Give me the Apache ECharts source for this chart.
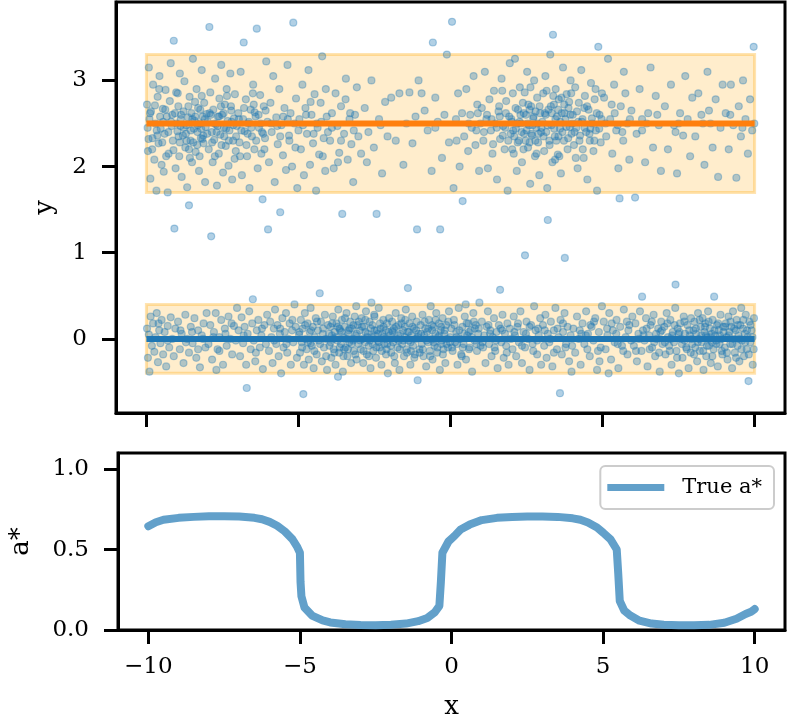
<!DOCTYPE html>
<html>
<head>
<meta charset="utf-8">
<script src="https://cdn.jsdelivr.net/npm/echarts@6/dist/echarts.min.js"></script>
<style>
  html, body { margin: 0; padding: 0; background: #fff; }
  #chart { width: 788px; height: 721px; }
</style>
</head>
<body>
<div id="chart"></div>
<script>
// samples around the upper mode (roughly)
var topPoints = [
  [-9.98,2.72],[-9.95,2.18],[-9.92,3.15],[-9.9,2.55],[-9.87,1.86],[-9.85,2.64],[-9.8,2.33],[-9.78,2.95],[-9.74,2.08],[-9.7,2.5],[-9.67,1.72],[-9.63,2.81],[-9.6,2.27],[-9.57,3.05],[-9.53,2.44],[-9.5,2.02],[-9.46,2.67],[-9.43,1.94],[-9.4,2.38],[-9.37,2.89],[-9.33,2.58],[-9.3,1.7],[-9.27,2.15],[-9.23,2.76],[-9.2,3.2],[-9.17,2.47],[-9.13,2.3],[-9.1,3.46],[-9.08,1.28],[-9.06,2.62],[-9.04,1.98],[-9.02,2.86],[-9.66,2.42],[-9.45,2.52],[-9.15,2.6],
  [-8.98,2.41],[-8.95,2.7],[-8.92,2.12],[-8.9,3.08],[-8.87,2.55],[-8.84,1.88],[-8.8,2.36],[-8.78,2.64],[-8.75,2.99],[-8.72,2.22],[-8.69,2.48],[-8.66,1.76],[-8.63,2.57],[-8.6,1.55],[-8.58,2.81],[-8.55,2.3],[-8.52,2.62],[-8.5,2.05],[-8.47,3.25],[-8.44,2.44],[-8.41,2.53],[-8.38,2.17],[-8.35,2.9],[-8.32,2.4],[-8.3,2.68],[-8.27,1.95],[-8.24,2.5],[-8.21,2.33],[-8.18,3.12],[-8.15,2.58],[-8.12,2.27],[-8.1,2.74],[-8.07,1.82],[-8.05,2.46],[-8.02,2.61],[-8.88,2.47],[-8.7,2.38],[-8.49,2.55],[-8.33,2.25],[-8.2,2.44],[-8.6,2.2],[-8.4,2.75],[-8.25,2.12],[-8.9,2.28],[-8.13,2.36],
  [-7.98,2.52],[-7.95,2.2],[-7.93,3.62],[-7.9,2.86],[-7.87,1.19],[-7.85,2.4],[-7.82,2.05],[-7.8,2.66],[-7.77,2.31],[-7.74,3.02],[-7.71,2.49],[-7.68,1.78],[-7.65,2.58],[-7.62,2.15],[-7.6,2.79],[-7.57,2.37],[-7.54,3.18],[-7.51,2.6],[-7.48,1.93],[-7.45,2.45],[-7.42,2.72],[-7.39,2.24],[-7.36,2.9],[-7.33,2.53],[-7.3,2.01],[-7.27,2.42],[-7.24,3.08],[-7.21,2.65],[-7.18,1.85],[-7.15,2.3],[-7.12,2.56],[-7.09,2.84],[-7.06,2.18],[-7.03,2.47],[-7.88,2.6],[-7.66,2.47],[-7.44,2.35],[-7.2,2.52],[-7.55,2.7],[-7.1,2.09],
  [-6.98,2.62],[-6.94,2.28],[-6.9,3.1],[-6.86,1.9],[-6.82,2.55],[-6.8,3.44],[-6.77,2.41],[-6.73,2.78],[-6.69,2.12],[-6.65,2.5],[-6.61,1.75],[-6.57,2.66],[-6.53,2.35],[-6.49,2.95],[-6.45,2.2],[-6.41,2.58],[-6.37,3.6],[-6.34,1.98],[-6.3,2.45],[-6.26,2.83],[-6.22,2.15],[-6.18,1.62],[-6.14,2.7],[-6.1,2.33],[-6.06,3.22],[-6.02,2.52],[-6.0,1.27],[-6.67,2.38],[-6.44,2.63],[-6.2,2.4],
  [-5.97,2.05],[-5.92,2.74],[-5.88,2.4],[-5.83,3.05],[-5.78,1.82],[-5.73,2.57],[-5.68,2.26],[-5.63,2.9],[-5.6,1.47],[-5.56,2.48],[-5.51,2.13],[-5.46,2.68],[-5.41,1.96],[-5.36,3.18],[-5.31,2.36],[-5.26,2.62],[-5.21,2.0],[-5.17,3.67],[-5.13,2.5],[-5.08,2.79],[-5.04,1.75],[-5.7,2.47],[-5.5,2.58],[-5.3,2.3],[-5.1,2.22],
  [-4.97,2.55],[-4.92,2.2],[-4.87,2.95],[-4.82,1.9],[-4.77,2.68],[-4.72,2.38],[-4.67,3.12],[-4.62,2.02],[-4.57,2.6],[-4.52,2.27],[-4.47,2.84],[-4.42,1.72],[-4.37,2.45],[-4.32,2.14],[-4.27,2.74],[-4.22,3.28],[-4.17,2.33],[-4.12,1.95],[-4.07,2.58],[-4.03,2.4],[-4.85,2.48],[-4.6,2.75],[-4.4,2.5],[-4.2,2.12],[-4.1,2.9],
  [-3.96,2.3],[-3.9,2.62],[-3.84,1.98],[-3.78,2.85],[-3.72,2.47],[-3.66,2.16],[-3.6,2.7],[-3.56,1.45],[-3.5,2.38],[-3.44,3.02],[-3.38,2.08],[-3.32,2.55],[-3.26,2.26],[-3.2,1.82],[-3.14,2.6],[-3.08,2.92],[-3.03,2.35],[-3.7,2.05],[-3.45,2.78],[-3.18,2.42],
  [-2.94,2.15],[-2.82,2.68],[-2.7,2.4],[-2.6,3.0],[-2.52,2.22],[-2.43,1.45],[-2.35,2.55],[-2.25,1.92],[-2.15,2.75],[-2.07,2.35],[-2.75,2.05],[-2.3,2.48],
  [-1.95,2.8],[-1.8,2.3],[-1.68,2.85],[-1.55,2.02],[-1.45,2.5],[-1.35,2.86],[-1.25,2.27],[-1.1,1.27],[-1.15,2.58],[-1.05,3.0],
  [-0.95,2.85],[-0.85,2.65],[-0.75,2.42],[-0.62,1.95],[-0.58,3.44],[-0.5,2.8],[-0.42,2.52],[-0.34,1.27],[-0.28,2.1],[-0.2,2.6],[-0.12,3.3],[-0.05,2.28],
  [0.05,3.68],[0.1,1.75],[0.18,2.55],[0.25,2.85],[0.3,2.0],[0.38,2.62],[0.45,2.35],[0.52,2.9],[0.58,2.18],[0.65,2.6],[0.7,2.45],[0.76,3.05],[0.82,2.25],[0.88,2.72],[0.94,1.95],[0.98,2.5],[0.4,1.6],[0.85,2.42],
  [1.03,2.68],[1.08,2.3],[1.13,3.1],[1.18,2.55],[1.23,1.98],[1.28,2.78],[1.33,2.42],[1.38,2.15],[1.43,2.88],[1.48,2.5],[1.53,1.85],[1.58,2.64],[1.63,2.32],[1.68,3.02],[1.73,2.47],[1.78,2.2],[1.83,2.76],[1.88,1.72],[1.93,2.58],[1.98,2.38],[1.2,2.6],[1.4,2.26],[1.6,2.7],[1.8,2.45],[1.95,3.2],
  [2.02,2.52],[2.05,2.85],[2.08,2.15],[2.12,3.25],[2.15,2.44],[2.18,1.95],[2.22,2.66],[2.25,2.3],[2.28,2.92],[2.32,2.5],[2.35,2.05],[2.38,2.74],[2.42,2.38],[2.45,0.97],[2.48,2.6],[2.52,3.1],[2.55,2.22],[2.58,2.48],[2.62,1.8],[2.65,2.7],[2.68,2.36],[2.72,2.56],[2.75,3.0],[2.78,2.12],[2.82,2.45],[2.85,2.8],[2.88,2.28],[2.92,1.9],[2.95,2.62],[2.98,2.4],[2.1,2.35],[2.3,2.6],[2.4,2.2],[2.5,2.42],[2.6,2.28],[2.7,2.48],[2.8,2.64],[2.9,2.38],[2.2,2.5],[2.56,2.72],
  [3.02,2.52],[3.05,2.85],[3.08,2.18],[3.12,3.05],[3.15,2.4],[3.18,1.75],[3.2,1.38],[3.22,2.66],[3.25,2.3],[3.28,3.3],[3.32,2.48],[3.35,2.05],[3.37,3.53],[3.4,2.72],[3.43,2.35],[3.46,2.9],[3.5,2.58],[3.53,2.14],[3.56,2.78],[3.6,2.44],[3.63,1.92],[3.66,2.62],[3.7,3.15],[3.73,2.3],[3.76,0.94],[3.78,2.55],[3.82,2.84],[3.85,2.2],[3.88,2.68],[3.92,2.46],[3.95,3.0],[3.98,2.38],[3.1,2.62],[3.3,2.7],[3.45,2.55],[3.55,2.35],[3.65,2.8],[3.75,2.62],[3.9,2.75],[3.38,2.82],
  [4.02,2.6],[4.06,2.25],[4.1,2.92],[4.14,2.45],[4.18,1.98],[4.22,2.74],[4.26,2.36],[4.3,3.12],[4.34,2.55],[4.38,2.1],[4.42,2.82],[4.46,2.4],[4.5,1.85],[4.54,2.66],[4.58,2.3],[4.62,2.97],[4.66,2.5],[4.7,2.18],[4.74,2.78],[4.78,2.42],[4.82,1.72],[4.86,3.39],[4.9,2.6],[4.94,2.28],[4.98,2.85],[4.2,2.52],[4.4,2.68],[4.6,2.44],
  [5.05,2.8],[5.12,2.35],[5.18,3.25],[5.25,2.55],[5.32,2.15],[5.38,2.95],[5.45,2.42],[5.52,1.98],[5.56,1.63],[5.6,2.7],[5.68,2.3],[5.75,2.85],[5.82,2.5],[5.88,2.08],[5.95,2.65],[5.3,2.72],[5.5,2.48],[5.7,3.1],
  [6.07,1.64],[6.12,2.38],[6.22,2.9],[6.3,2.55],[6.4,2.05],[6.5,2.62],[6.58,3.15],[6.66,2.22],[6.75,2.82],[6.85,2.48],[6.92,1.95],[6.45,2.5],
  [7.05,2.7],[7.15,2.2],[7.25,2.95],[7.35,2.48],[7.45,1.92],[7.55,2.62],[7.65,2.36],[7.72,3.05],[7.8,2.55],[7.88,2.12],[7.95,2.8],[7.5,2.5],
  [8.05,2.35],[8.15,2.85],[8.25,2.6],[8.35,2.02],[8.45,3.1],[8.55,2.5],[8.62,2.22],[8.72,2.78],[8.8,1.88],[8.88,2.45],[8.95,2.95],[8.5,2.65],
  [9.05,2.62],[9.15,2.2],[9.22,2.95],[9.3,2.48],[9.4,1.87],[9.48,2.7],[9.55,2.35],[9.62,3.0],[9.7,2.55],[9.78,2.15],[9.85,2.78],[9.92,2.42],[9.97,3.39],[9.99,2.5],
  // denser cores
  [-9.96,2.45],[-9.88,2.62],[-9.81,2.2],[-9.72,2.71],[-9.64,2.36],[-9.55,2.58],[-9.48,2.28],[-9.38,2.66],[-9.28,2.4],[-9.19,2.52],[-9.11,2.19],[-9.01,2.5],[-8.94,2.35],[-8.86,2.6],[-8.77,2.45],[-8.68,2.3],[-8.62,2.7],[-8.54,2.42],[-8.46,2.28],[-8.39,2.58],[-8.31,2.48],[-8.23,2.66],[-8.16,2.32],[-8.08,2.55],[-8.0,2.38],[-7.92,2.62],[-7.84,2.28],[-7.76,2.5],[-7.69,2.4],[-7.61,2.58],[-7.53,2.25],[-7.46,2.62],[-7.38,2.44],[-7.29,2.3],[-7.22,2.7],[-7.14,2.48],[-7.05,2.35],[-6.96,2.55],[-6.88,2.42],[-6.79,2.68],[-6.71,2.25],[-6.63,2.52],[-6.55,2.45],[-6.47,2.72],[-6.39,2.3],[-6.31,2.6],[-6.24,2.5],[-6.16,2.38],[-6.08,2.65],[-9.93,2.32],[-9.58,2.9],[-9.35,2.12],[-8.97,2.85],[-8.57,2.1],[-8.18,2.82],[-7.75,2.12],[-7.35,2.82],[-6.92,2.12],[-6.5,2.85],[-6.12,2.2],
  [1.52,2.45],[1.62,2.58],[1.72,2.36],[1.82,2.62],[1.9,2.3],[2.0,2.55],[2.06,2.42],[2.14,2.68],[2.21,2.28],[2.27,2.52],[2.34,2.4],[2.41,2.62],[2.47,2.3],[2.53,2.5],[2.6,2.66],[2.66,2.38],[2.73,2.58],[2.79,2.3],[2.86,2.5],[2.93,2.7],[2.99,2.45],[3.06,2.35],[3.13,2.6],[3.19,2.48],[3.26,2.25],[3.33,2.62],[3.41,2.44],[3.48,2.3],[3.54,2.66],[3.61,2.52],[3.68,2.4],[3.74,2.72],[3.81,2.46],[3.87,2.33],[3.94,2.6],[4.0,2.5],[4.08,2.4],[4.16,2.64],[4.24,2.3],[4.32,2.52],[4.41,2.45],[4.49,2.7],[4.57,2.38],[4.65,2.56],[4.73,2.3],[4.81,2.62],[4.89,2.44],[4.97,2.55],[2.03,2.2],[2.44,2.86],[2.83,2.15],[3.16,2.88],[3.58,2.12],[3.97,2.85],[4.35,2.2],[1.7,2.88],[2.63,2.92],[3.44,2.08],[4.12,2.1],[4.77,2.9],
  [-5.9,2.5],[-5.6,2.35],[-5.35,2.55],[-5.0,2.42],[-4.75,2.6],[-4.5,2.38],[-4.25,2.52],[-3.9,2.45],[-3.6,2.3],[-3.3,2.62],[-0.5,2.45],[0.2,2.3],[0.6,2.5],[0.9,2.62],[1.1,2.4],[1.35,2.55],[5.1,2.5],[5.4,2.62],[5.65,2.4],[5.9,2.55],[6.3,2.42],[6.8,2.6],[7.4,2.4],[8.3,2.5],[9.2,2.6],[9.6,2.45]
];

// samples around the lower mode
var bottomPoints = [
  [-9.98,0.12],[-9.95,-0.22],[-9.92,0.05],[-9.9,-0.38],[-9.86,0.26],[-9.82,-0.08],[-9.78,0.18],[-9.74,-0.15],[-9.7,0.02],[-9.66,0.3],[-9.62,-0.27],[-9.58,0.1],[-9.54,-0.05],[-9.5,0.22],[-9.45,-0.18],[-9.4,0.08],[-9.35,-0.32],[-9.3,0.15],[-9.25,-0.1],[-9.2,0.25],[-9.15,0.0],[-9.1,-0.2],[-9.05,0.12],[-9.6,0.18],[-9.3,-0.02],
  [-8.96,0.2],[-8.9,-0.12],[-8.84,0.06],[-8.78,-0.28],[-8.72,0.28],[-8.66,0.0],[-8.6,-0.16],[-8.54,0.14],[-8.48,-0.05],[-8.42,0.24],[-8.36,-0.22],[-8.3,0.1],[-8.24,-0.33],[-8.18,0.04],[-8.12,0.18],[-8.06,-0.1],[-8.02,0.3],[-8.7,-0.04],[-8.5,0.08],[-8.3,-0.12],[-8.14,0.0],[-8.88,0.1],
  [-7.96,-0.06],[-7.9,0.16],[-7.84,-0.24],[-7.78,0.08],[-7.72,0.3],[-7.66,-0.12],[-7.6,0.02],[-7.54,0.22],[-7.48,-0.3],[-7.42,0.12],[-7.36,-0.08],[-7.3,0.26],[-7.24,0.0],[-7.18,-0.18],[-7.12,0.15],[-7.06,-0.02],[-7.02,0.36],[-7.8,0.02],[-7.6,-0.14],[-7.4,0.06],[-7.2,0.18],[-7.7,-0.36],
  [-6.97,0.1],[-6.92,-0.2],[-6.87,0.25],[-6.82,-0.05],[-6.77,0.14],[-6.72,-0.3],[-6.7,-0.57],[-6.67,0.06],[-6.62,0.32],[-6.57,-0.12],[-6.52,0.18],[-6.5,0.46],[-6.47,-0.02],[-6.42,-0.26],[-6.37,0.1],[-6.32,0.22],[-6.27,-0.1],[-6.22,0.04],[-6.17,-0.35],[-6.12,0.16],[-6.07,-0.06],[-6.03,0.28],[-6.8,0.04],[-6.4,-0.16],[-6.2,0.12],
  [-5.97,-0.14],[-5.93,0.2],[-5.89,0.02],[-5.85,-0.28],[-5.81,0.12],[-5.77,0.34],[-5.73,-0.06],[-5.69,0.16],[-5.65,-0.2],[-5.61,0.06],[-5.57,-0.4],[-5.53,0.24],[-5.49,-0.1],[-5.45,0.08],[-5.41,0.3],[-5.37,-0.16],[-5.33,0.0],[-5.29,0.18],[-5.25,-0.3],[-5.21,0.1],[-5.17,-0.04],[-5.13,0.4],[-5.09,0.14],[-5.05,-0.22],[-5.8,-0.02],[-5.6,0.12],[-5.4,-0.06],[-5.2,0.22],
  [-4.98,0.05],[-4.95,-0.16],[-4.92,0.22],[-4.89,-0.04],[-4.86,0.12],[-4.84,-0.64],[-4.82,-0.3],[-4.79,0.3],[-4.76,0.0],[-4.73,-0.12],[-4.7,0.18],[-4.66,-0.24],[-4.63,0.08],[-4.6,0.36],[-4.56,-0.08],[-4.53,0.14],[-4.5,-0.34],[-4.46,0.02],[-4.43,0.24],[-4.4,-0.18],[-4.36,0.1],[-4.33,-0.02],[-4.3,0.53],[-4.26,0.2],[-4.23,-0.26],[-4.2,0.06],[-4.16,-0.1],[-4.13,0.28],[-4.1,0.0],[-4.06,-0.36],[-4.03,0.16],[-4.6,-0.05],
  [-3.98,-0.08],[-3.95,0.14],[-3.92,-0.22],[-3.9,0.04],[-3.87,0.26],[-3.84,-0.12],[-3.81,0.08],[-3.78,-0.3],[-3.75,0.18],[-3.72,-0.02],[-3.69,0.34],[-3.66,-0.16],[-3.63,0.1],[-3.6,-0.06],[-3.57,0.22],[-3.54,-0.38],[-3.51,0.02],[-3.48,0.14],[-3.45,-0.1],[-3.42,0.3],[-3.39,-0.2],[-3.36,0.06],[-3.33,-0.04],[-3.3,0.2],[-3.27,-0.28],[-3.24,0.12],[-3.21,0.0],[-3.18,-0.14],[-3.15,0.26],[-3.12,0.04],[-3.09,-0.24],[-3.06,0.16],[-3.03,-0.06],[-3.85,0.0],[-3.65,0.12],[-3.5,-0.12],[-3.35,0.1],[-3.2,-0.02],[-3.1,0.38],[-3.7,-0.44],
  [-2.98,0.1],[-2.95,-0.12],[-2.92,0.24],[-2.9,0.0],[-2.87,-0.28],[-2.84,0.14],[-2.81,-0.04],[-2.78,0.32],[-2.75,-0.18],[-2.72,0.06],[-2.69,-0.08],[-2.66,0.2],[-2.63,-0.34],[-2.6,0.02],[-2.57,0.16],[-2.54,-0.14],[-2.51,0.28],[-2.48,0.04],[-2.45,-0.22],[-2.42,0.1],[-2.39,-0.02],[-2.36,0.36],[-2.33,-0.1],[-2.3,0.12],[-2.27,-0.3],[-2.24,0.06],[-2.21,0.22],[-2.18,-0.06],[-2.15,0.0],[-2.12,-0.18],[-2.09,0.18],[-2.06,-0.4],[-2.03,0.08],[-2.8,0.08],[-2.65,-0.02],[-2.5,0.1],[-2.35,-0.04],[-2.2,0.14],[-2.1,-0.12],[-2.6,0.42],
  [-1.98,0.04],[-1.95,-0.16],[-1.92,0.2],[-1.89,-0.04],[-1.86,0.12],[-1.83,-0.28],[-1.8,0.3],[-1.77,0.0],[-1.74,-0.1],[-1.71,0.16],[-1.68,-0.36],[-1.65,0.06],[-1.62,0.24],[-1.59,-0.06],[-1.56,0.1],[-1.53,-0.2],[-1.5,0.02],[-1.47,0.34],[-1.44,-0.12],[-1.41,0.08],[-1.4,0.59],[-1.38,-0.02],[-1.35,0.18],[-1.32,-0.3],[-1.29,0.04],[-1.26,0.26],[-1.23,-0.08],[-1.2,0.12],[-1.17,-0.18],[-1.14,0.0],[-1.11,0.2],[-1.08,-0.48],[-1.05,0.06],[-1.02,-0.12],[-1.9,0.08],[-1.7,-0.02],[-1.5,0.14],[-1.3,-0.14],
  [-0.98,0.16],[-0.95,-0.06],[-0.92,0.28],[-0.89,-0.2],[-0.86,0.04],[-0.83,0.12],[-0.8,-0.32],[-0.77,0.08],[-0.74,-0.04],[-0.71,0.22],[-0.68,-0.14],[-0.65,0.38],[-0.62,0.0],[-0.59,-0.24],[-0.56,0.14],[-0.53,-0.08],[-0.5,0.06],[-0.47,0.3],[-0.44,-0.16],[-0.41,0.02],[-0.38,0.18],[-0.35,-0.36],[-0.32,0.1],[-0.29,-0.02],[-0.26,0.24],[-0.23,-0.12],[-0.2,0.06],[-0.17,-0.28],[-0.14,0.16],[-0.11,0.0],[-0.08,-0.1],[-0.05,0.32],[-0.02,-0.04],[-0.6,0.1],[-0.3,-0.06],
  [0.03,0.12],[0.07,-0.14],[0.11,0.22],[0.15,-0.04],[0.19,0.08],[0.23,-0.3],[0.27,0.36],[0.31,0.0],[0.35,-0.18],[0.39,0.14],[0.43,-0.06],[0.47,0.26],[0.51,-0.24],[0.55,0.04],[0.59,0.18],[0.63,-0.1],[0.67,0.1],[0.71,-0.38],[0.75,0.3],[0.79,-0.02],[0.83,0.16],[0.87,-0.14],[0.91,0.06],[0.95,0.42],[0.99,-0.08],[0.2,0.02],[0.4,-0.1],[0.6,0.08],[0.8,0.12],[0.5,0.4],
  [1.03,0.2],[1.07,-0.1],[1.11,0.04],[1.15,-0.28],[1.19,0.14],[1.23,0.32],[1.27,-0.06],[1.31,0.1],[1.35,-0.2],[1.39,0.02],[1.43,0.24],[1.47,-0.14],[1.51,0.08],[1.55,-0.34],[1.59,0.16],[1.63,0.57],[1.67,-0.04],[1.71,0.28],[1.75,-0.22],[1.79,0.06],[1.83,-0.08],[1.87,0.18],[1.91,-0.3],[1.95,0.12],[1.99,0.0],[1.3,0.06],[1.5,-0.02],[1.7,0.1],
  [2.04,-0.12],[2.08,0.26],[2.12,0.04],[2.16,-0.2],[2.2,0.14],[2.25,-0.04],[2.3,0.32],[2.35,-0.28],[2.4,0.08],[2.45,-0.1],[2.5,0.2],[2.55,0.0],[2.6,-0.36],[2.65,0.16],[2.7,-0.06],[2.75,0.38],[2.8,0.1],[2.85,-0.18],[2.9,0.04],[2.95,0.24],[2.98,-0.3],[2.22,0.18],[2.48,0.06],[2.72,-0.14],[2.88,0.12],
  [3.04,0.16],[3.08,-0.08],[3.12,0.28],[3.16,-0.22],[3.2,0.06],[3.25,-0.04],[3.3,0.2],[3.35,-0.32],[3.4,0.1],[3.45,0.36],[3.5,-0.12],[3.55,0.02],[3.6,-0.63],[3.62,0.22],[3.66,-0.18],[3.7,0.08],[3.75,0.3],[3.8,-0.06],[3.85,0.14],[3.9,-0.26],[3.95,0.04],[3.98,-0.38],[3.28,0.0],[3.52,0.12],[3.78,-0.1],
  [4.04,0.12],[4.1,-0.16],[4.16,0.26],[4.22,0.0],[4.28,-0.3],[4.34,0.18],[4.4,-0.06],[4.46,0.32],[4.52,0.06],[4.58,-0.2],[4.64,0.14],[4.7,-0.02],[4.76,0.24],[4.82,-0.36],[4.88,0.08],[4.94,-0.1],[4.98,0.38],[4.25,0.1],[4.5,-0.12],[4.72,0.2],[4.9,-0.26],[4.45,0.04],
  [5.04,0.2],[5.1,-0.12],[5.16,0.04],[5.22,0.3],[5.28,-0.24],[5.34,0.1],[5.4,-0.04],[5.46,0.22],[5.52,-0.34],[5.58,0.14],[5.64,-0.08],[5.7,0.34],[5.76,0.02],[5.82,-0.18],[5.88,0.16],[5.94,-0.02],[5.98,0.26],[5.2,-0.4],[5.45,0.06],[5.68,-0.14],[5.85,0.1],[5.3,0.18],
  [6.03,-0.08],[6.08,0.18],[6.13,-0.26],[6.18,0.06],[6.23,0.32],[6.28,-0.14],[6.3,0.49],[6.33,0.1],[6.38,-0.02],[6.43,0.24],[6.48,-0.32],[6.53,0.04],[6.58,0.16],[6.63,-0.1],[6.68,0.28],[6.73,-0.2],[6.78,0.0],[6.83,0.12],[6.88,-0.38],[6.93,0.2],[6.97,-0.06],[6.2,0.0],[6.45,0.12],[6.7,-0.04],[6.9,0.08],
  [7.03,0.14],[7.07,-0.18],[7.11,0.3],[7.15,0.02],[7.19,-0.08],[7.23,0.22],[7.27,-0.3],[7.31,0.08],[7.35,-0.04],[7.39,0.36],[7.4,0.63],[7.43,-0.14],[7.47,0.12],[7.51,-0.4],[7.55,0.18],[7.59,0.0],[7.63,-0.22],[7.67,0.26],[7.71,0.06],[7.75,-0.1],[7.79,0.16],[7.83,-0.34],[7.87,0.04],[7.91,0.24],[7.95,-0.06],[7.99,0.1],[7.25,0.0],[7.5,0.06],[7.7,-0.02],[7.9,-0.16],
  [8.02,0.2],[8.05,-0.1],[8.08,0.06],[8.11,-0.26],[8.14,0.3],[8.17,0.0],[8.2,-0.14],[8.23,0.14],[8.26,-0.04],[8.29,0.24],[8.32,-0.36],[8.35,0.08],[8.38,0.18],[8.41,-0.2],[8.44,0.02],[8.47,0.32],[8.5,-0.08],[8.53,0.12],[8.56,-0.28],[8.59,0.06],[8.62,0.22],[8.65,-0.12],[8.67,0.49],[8.7,0.04],[8.73,-0.02],[8.76,0.16],[8.79,-0.32],[8.82,0.1],[8.85,-0.06],[8.88,0.28],[8.91,0.0],[8.94,-0.18],[8.97,0.14],[8.4,0.04],[8.6,-0.04],
  [9.02,-0.1],[9.05,0.18],[9.08,0.02],[9.11,-0.24],[9.14,0.26],[9.17,0.08],[9.2,-0.06],[9.23,0.14],[9.26,-0.34],[9.29,0.32],[9.32,0.0],[9.35,-0.16],[9.38,0.1],[9.41,0.22],[9.44,-0.08],[9.47,0.04],[9.5,-0.26],[9.53,0.16],[9.56,0.36],[9.59,-0.02],[9.62,0.12],[9.65,-0.2],[9.68,0.06],[9.71,0.28],[9.74,-0.12],[9.77,0.02],[9.8,-0.49],[9.83,0.2],[9.86,-0.04],[9.9,0.1],[9.94,-0.3],[9.98,0.24],
  // denser cores
  [-4.97,0.08],[-4.88,-0.1],[-4.78,0.16],[-4.69,-0.04],[-4.59,0.1],[-4.48,-0.14],[-4.39,0.2],[-4.29,-0.06],[-4.19,0.12],[-4.09,-0.2],
  [-3.99,0.06],[-3.94,-0.04],[-3.89,0.18],[-3.82,-0.16],[-3.76,0.02],[-3.71,0.14],[-3.64,-0.1],[-3.58,0.08],[-3.52,-0.2],[-3.47,0.24],[-3.41,0.0],[-3.37,-0.12],[-3.31,0.12],[-3.25,-0.06],[-3.19,0.16],[-3.13,-0.18],[-3.08,0.06],[-3.02,0.2],
  [-2.97,-0.02],[-2.91,0.14],[-2.86,-0.14],[-2.8,0.22],[-2.74,0.02],[-2.68,-0.2],[-2.62,0.12],[-2.56,-0.06],[-2.5,0.26],[-2.44,-0.1],[-2.38,0.06],[-2.32,0.18],[-2.26,-0.14],[-2.2,0.02],[-2.14,0.1],[-2.08,-0.06],[-2.02,0.24],
  [-1.96,-0.08],[-1.91,0.1],[-1.85,-0.2],[-1.79,0.14],[-1.73,0.04],[-1.67,-0.12],[-1.61,0.18],[-1.55,-0.02],[-1.49,0.22],[-1.43,-0.16],[-1.37,0.08],[-1.31,-0.04],[-1.25,0.14],[-1.19,-0.22],[-1.13,0.1],[-1.07,0.02],[-1.01,-0.16],
  [-0.97,0.06],[-0.91,-0.12],[-0.85,0.2],[-0.79,-0.02],[-0.73,0.12],[-0.67,-0.2],[-0.61,0.16],[-0.55,-0.04],[-0.49,0.22],[-0.43,-0.1],[-0.37,0.04],[-0.31,0.14],[-0.25,-0.18],[-0.19,0.1],[-0.13,-0.06],[-0.07,0.2],[-0.01,0.02],
  [0.05,-0.1],[0.13,0.16],[0.21,-0.06],[0.29,0.1],[0.37,-0.2],[0.45,0.06],[0.53,0.18],[0.61,-0.12],[0.69,0.02],[0.77,0.2],[0.85,-0.06],[0.93,0.12],
  [1.05,-0.04],[1.25,0.16],[1.45,-0.1],[1.65,0.12],[1.85,-0.16],[2.1,0.08],[2.35,-0.08],[2.6,0.14],[2.85,-0.02],[3.1,0.1],[3.4,-0.16],[3.7,0.18],[4.0,-0.08],[4.3,0.06],[4.6,0.16],[4.85,-0.14],[5.15,0.12],[5.5,-0.06],[5.8,0.2],[6.1,-0.14],[6.35,0.04],
  [6.55,-0.12],[6.62,0.2],[6.76,0.06],[6.86,-0.16],[6.95,0.1],[7.05,-0.04],[7.13,0.18],[7.21,-0.14],[7.29,0.04],[7.37,0.16],[7.45,-0.22],[7.53,0.08],[7.61,-0.06],[7.69,0.2],[7.77,-0.12],[7.85,0.1],[7.93,0.0],
  [8.01,-0.18],[8.07,0.12],[8.13,-0.04],[8.19,0.22],[8.25,0.04],[8.31,-0.14],[8.37,0.14],[8.43,-0.08],[8.49,0.2],[8.55,0.02],[8.61,-0.2],[8.68,0.1],[8.74,-0.06],[8.8,0.18],[8.86,0.04],[8.92,-0.14],[8.98,0.08],
  [9.03,0.14],[9.09,-0.16],[9.15,0.04],[9.21,0.2],[9.27,-0.06],[9.33,0.12],[9.39,-0.22],[9.45,0.16],[9.51,0.0],[9.57,-0.12],[9.63,0.22],[9.69,-0.04],[9.75,0.1],[9.81,-0.18],[9.87,0.16],[9.93,0.02],[9.97,-0.12]
];

// mode means and +/- bands
var modeMeans = [2.5, 0];
var bandUpper = [1.7, 3.3];
var bandLower = [-0.4, 0.4];
var bandX = [-10, 10];

// true a*(x)
var aStarX = [-10,-9.75,-9.5,-9,-8.5,-8,-7.5,-7,-6.5,-6.25,-6,-5.75,-5.5,-5.25,-5.1,-5.0,-4.98,-4.95,-4.85,-4.6,-4.25,-4,-3.5,-3,-2.5,-2,-1.5,-1.1,-0.8,-0.55,-0.4,-0.35,-0.3,-0.1,0.1,0.3,0.6,1,1.5,2,2.5,3,3.5,4,4.25,4.5,4.8,5.0,5.25,5.45,5.5,5.55,5.7,5.9,6.2,6.6,7,7.5,8,8.5,9,9.4,9.7,9.9,10];
var aStarY = [0.645,0.67,0.685,0.697,0.703,0.707,0.707,0.705,0.697,0.688,0.672,0.648,0.613,0.565,0.52,0.48,0.3,0.21,0.14,0.09,0.06,0.047,0.036,0.031,0.03,0.033,0.04,0.055,0.075,0.11,0.15,0.3,0.48,0.55,0.585,0.625,0.655,0.683,0.697,0.702,0.705,0.705,0.703,0.694,0.685,0.668,0.637,0.605,0.562,0.5,0.35,0.18,0.12,0.09,0.058,0.04,0.032,0.029,0.029,0.032,0.045,0.07,0.1,0.115,0.13];

var xTicks = [-10, -5, 0, 5, 10];
var yTopTicks = [0, 1, 2, 3];
var yBottomTicks = [0, 0.5, 1.0];

var FONT = 'DejaVu Serif';
var BLUE = '#1f77b4';
var ORANGE = '#ff7f0e';

function minus(v) {
    return v < 0 ? '\u2212' + Math.abs(v) : String(v);
}

var aStarData = aStarX.map(function (x, i) { return [x, aStarY[i]]; });

var axisCommon = {
    axisLine: { show: true, onZero: false, lineStyle: { color: '#000', width: 3 } },
    axisTick: { show: true, inside: false, length: 14, lineStyle: { color: '#000', width: 3 } },
    splitLine: { show: false }
};

var myChart = echarts.init(document.getElementById('chart'));

var option = {
    animation: false,
    backgroundColor: '#fff',
    grid: [
        { left: 116, right: 3, top: 2, bottom: 308, show: true, borderColor: '#000', borderWidth: 3 },
        { left: 116, right: 3, top: 453, bottom: 90, show: true, borderColor: '#000', borderWidth: 3 }
    ],
    legend: {
        data: [{ name: 'True a*', icon: 'rect' }],
        right: 14,
        top: 466,
        padding: [11, 12, 11, 7],
        backgroundColor: 'rgba(255,255,255,0.8)',
        borderColor: '#cccccc',
        borderWidth: 2,
        borderRadius: 5,
        itemWidth: 57,
        itemHeight: 7,
        itemStyle: { color: '#62a0ca' },
        textStyle: { fontFamily: FONT, fontSize: 21, color: '#000', padding: [0, 0, 0, 13] }
    },
    xAxis: [
        Object.assign({}, axisCommon, {
            type: 'value', gridIndex: 0, min: -11, max: 11,
            axisTick: Object.assign({}, axisCommon.axisTick, { customValues: xTicks }),
            axisLabel: { show: false, customValues: xTicks }
        }),
        Object.assign({}, axisCommon, {
            type: 'value', gridIndex: 1, min: -11, max: 11,
            name: 'x', nameLocation: 'middle', nameGap: 64,
            nameTextStyle: { fontFamily: FONT, fontSize: 26, color: '#000' },
            axisTick: Object.assign({}, axisCommon.axisTick, { customValues: xTicks }),
            axisLabel: {
                customValues: xTicks, margin: 26,
                fontFamily: FONT, fontSize: 23, color: '#000',
                formatter: minus
            }
        })
    ],
    yAxis: [
        Object.assign({}, axisCommon, {
            type: 'value', gridIndex: 0, min: -0.86, max: 3.91,
            name: 'y', nameLocation: 'middle', nameGap: 58, nameRotate: 90,
            nameTextStyle: { fontFamily: FONT, fontSize: 26, color: '#000' },
            axisTick: Object.assign({}, axisCommon.axisTick, { customValues: yTopTicks }),
            axisLabel: {
                customValues: yTopTicks, margin: 29,
                fontFamily: FONT, fontSize: 23, color: '#000',
                formatter: minus
            }
        }),
        Object.assign({}, axisCommon, {
            type: 'value', gridIndex: 1, min: 0, max: 1.1,
            name: 'a*', nameLocation: 'middle', nameGap: 84, nameRotate: 90,
            nameTextStyle: { fontFamily: FONT, fontSize: 26, color: '#000' },
            axisTick: Object.assign({}, axisCommon.axisTick, { customValues: yBottomTicks }),
            axisLabel: {
                customValues: yBottomTicks, margin: 29,
                fontFamily: FONT, fontSize: 23, color: '#000',
                formatter: function (v) { return v.toFixed(1); }
            }
        })
    ],
    series: [
        {
            // shaded bands
            type: 'line', xAxisIndex: 0, yAxisIndex: 0, data: [], z: 1,
            markArea: {
                silent: true,
                itemStyle: { color: 'rgba(255,165,0,0.2)', borderColor: 'rgba(255,165,0,0.3)', borderWidth: 3 },
                data: [
                    [{ xAxis: bandX[0], yAxis: bandUpper[0] }, { xAxis: bandX[1], yAxis: bandUpper[1] }],
                    [{ xAxis: bandX[0], yAxis: bandLower[0] }, { xAxis: bandX[1], yAxis: bandLower[1] }]
                ]
            }
        },
        {
            type: 'scatter', xAxisIndex: 0, yAxisIndex: 0, z: 2,
            symbolSize: 7,
            itemStyle: { color: BLUE, borderColor: BLUE, borderWidth: 1.2, opacity: 0.35 },
            data: topPoints.concat(bottomPoints)
        },
        {
            type: 'line', xAxisIndex: 0, yAxisIndex: 0, z: 3,
            symbol: 'none',
            lineStyle: { color: ORANGE, width: 6 },
            data: [[bandX[0], modeMeans[0]], [bandX[1], modeMeans[0]]]
        },
        {
            type: 'line', xAxisIndex: 0, yAxisIndex: 0, z: 3,
            symbol: 'none',
            lineStyle: { color: BLUE, width: 6 },
            data: [[bandX[0], modeMeans[1]], [bandX[1], modeMeans[1]]]
        },
        {
            name: 'True a*',
            type: 'line', xAxisIndex: 1, yAxisIndex: 1, z: 3,
            symbol: 'none',
            color: '#62a0ca',
            lineStyle: { color: '#62a0ca', width: 8, cap: 'round', join: 'round' },
            data: aStarData
        }
    ]
};

myChart.setOption(option);
</script>
</body>
</html>
